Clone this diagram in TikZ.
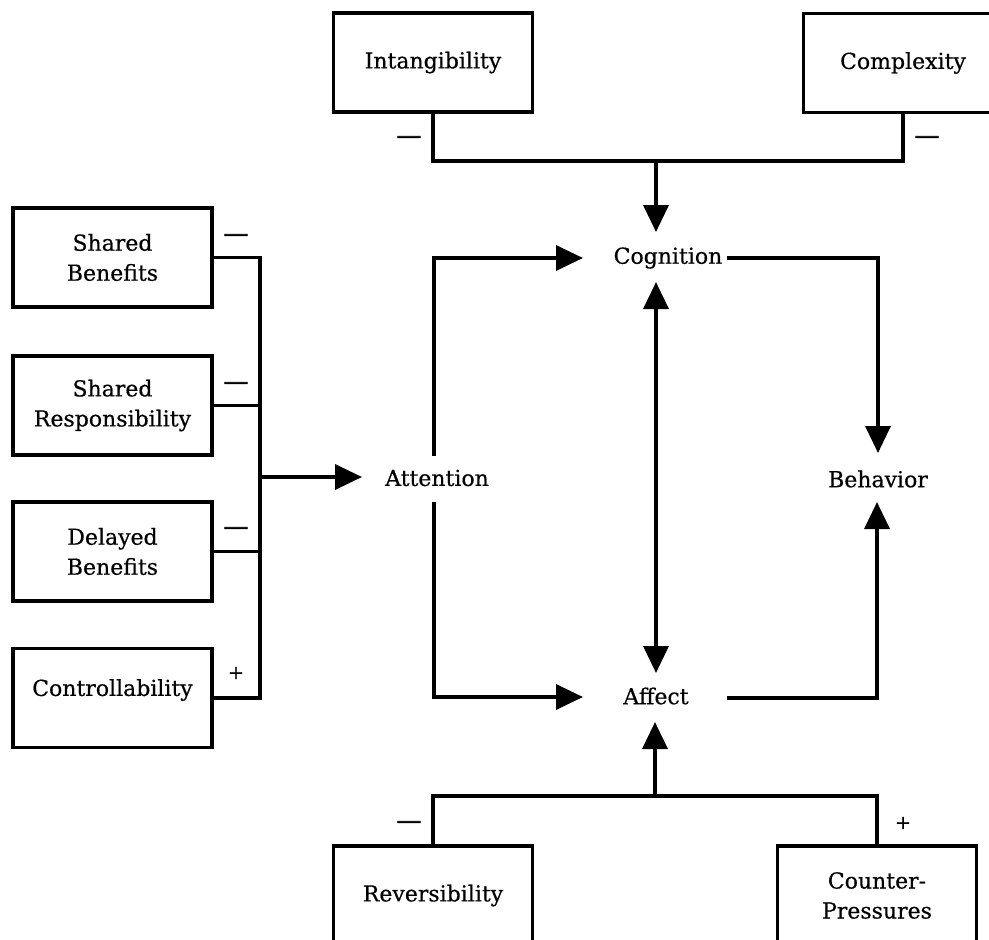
\documentclass[tikz,border=0pt]{standalone}
\usepackage{fontspec}
\setmainfont{DejaVu Serif}[FakeBold=0.5]
\usetikzlibrary{arrows.meta}
\begin{document}
\begin{tikzpicture}[x=1pt,y=-1pt,
  factor/.style={draw, line width=3.6pt, minimum width=199pt, minimum height=99pt,
    align=center, inner sep=0pt, font=\fontsize{22}{30}\selectfont},
  concept/.style={inner sep=0pt, font=\fontsize{22}{30}\selectfont},
  link/.style={line width=3.5pt},
  flow/.style={link, -{Triangle[length=27pt,width=25pt]}},
  sign/.style={inner sep=0pt, font=\fontsize{25}{25}\selectfont\addfontfeature{FakeBold=2.5}},
  plus/.style={inner sep=0pt, font=\fontsize{19}{19}\selectfont\addfontfeature{FakeBold=1.5}},
]
\useasboundingbox (0,0) rectangle (989,940);
\clip (0,0) rectangle (989,940);

% outer factors
\node[factor] (int) at (433,62.5) {Intangibility};
\node[factor] (cpx) at (903,63) {Complexity};
\node[factor] (shb) at (112.5,257.5) {Shared\\Benefits};
\node[factor] (shr) at (112.5,405.5) {Shared\\Responsibility};
\node[factor] (dlb) at (112.5,551.5) {Delayed\\Benefits};
\node[factor] (ctl) at (112.5,698) {\raisebox{8pt}[\height][\depth]{Controllability}};
\node[factor] (rev) at (433,895.5) {Reversibility};
\node[factor] (ctp) at (877,895.5) {Counter-\\Pressures};

% core constructs
\node[concept] (cog) at (668,258) {Cognition};
\node[concept] (att) at (437,478) {Attention};
\node[concept] (aff) at (656,696) {Affect};
\node[concept] (beh) at (878,479) {Behavior};

% junctions and arrow ends
\coordinate (tj) at (656,161);
\coordinate (lbus) at (260,477);
\coordinate (bj) at (655,796);
\coordinate (cogTop) at (656,232);
\coordinate (cogBot) at (656,282);
\coordinate (cogIn) at (583,258);
\coordinate (cogOut) at (727,258);
\coordinate (attIn) at (362,477);
\coordinate (attUp) at (434,456);
\coordinate (attDn) at (434,502);
\coordinate (affTop) at (656,673);
\coordinate (affBot) at (655,722);
\coordinate (affIn) at (583,697);
\coordinate (affOut) at (727,698);
\coordinate (behTop) at (878,453);
\coordinate (behBot) at (877,502);

% top inputs
\draw[link] (int.south) |- (tj) -| (cpx.south);
\draw[flow] (tj) -- (cogTop);

% left inputs
\draw[link] (shb.east) -| (lbus) |- (ctl.east);
\draw[link] (shr.east) -- (shr.east -| lbus);
\draw[link] (dlb.east) -- (dlb.east -| lbus);
\draw[flow] (lbus) -- (attIn);

% attention to cognition and affect
\draw[flow] (attUp) |- (cogIn);
\draw[flow] (attDn) |- (affIn);

% cognition <-> affect
\draw[link, {Triangle[length=27pt,width=25pt]}-{Triangle[length=27pt,width=25pt]}] (cogBot) -- (affTop);

% paths to behavior
\draw[flow] (cogOut) -| (behTop);
\draw[flow] (affOut) -| (behBot);

% bottom inputs
\draw[link] (rev.north) |- (bj) -| (ctp.north);
\draw[flow] (bj) -- (affBot);

% signs
\node[sign] (sInt) at (409,140) {—};
\node[sign] (sCpx) at (927,140) {—};
\node[sign] (sShb) at (236,238) {—};
\node[sign] (sShr) at (236,386) {—};
\node[sign] (sDlb) at (236,531) {—};
\node[plus] (sCtl) at (236,673) {+};
\node[sign] (sRev) at (409,825) {—};
\node[plus] (sCtp) at (903,823) {+};
\end{tikzpicture}
\end{document}
